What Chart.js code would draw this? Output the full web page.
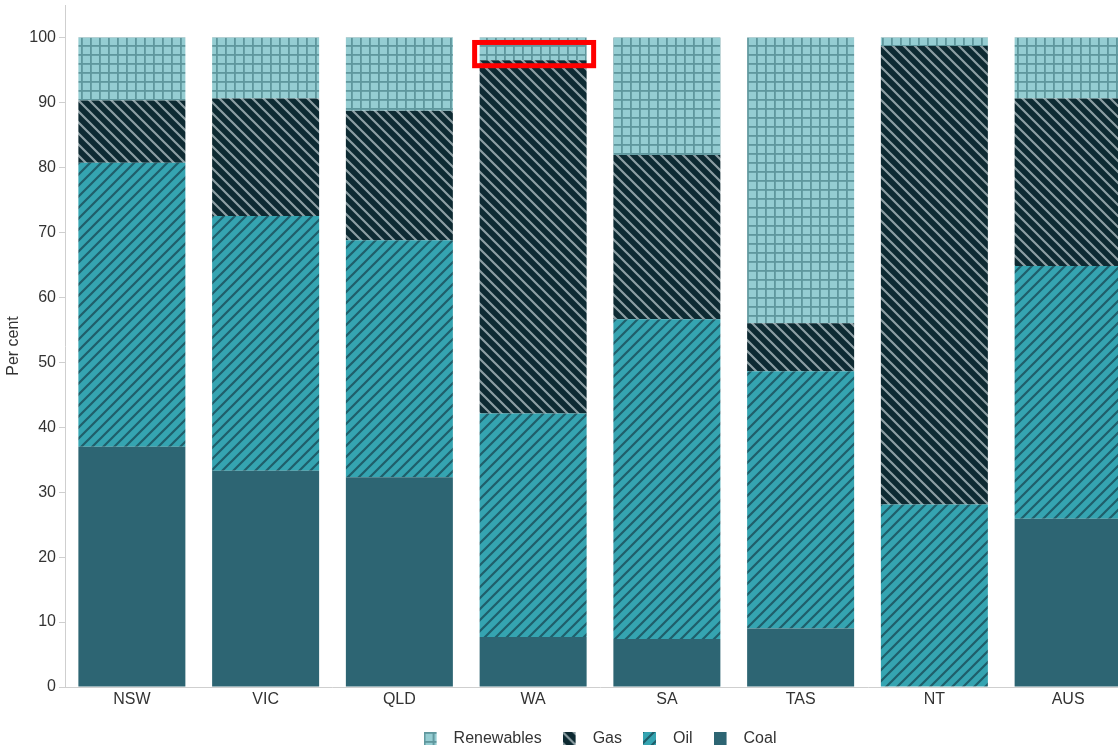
<!DOCTYPE html>
<html>
<head>
<meta charset="utf-8">
<script src="https://cdn.jsdelivr.net/npm/chart.js@4.4.1/dist/chart.umd.min.js"></script>
<style>
  html, body { margin: 0; padding: 0; background: #fff; overflow: hidden; }
  #wrap { position: relative; width: 1216px; height: 757px; }
</style>
</head>
<body>
<div id="wrap"><canvas id="c" width="1216" height="757"></canvas></div>
<script>
// ---- Data ----
const categories = ['NSW', 'VIC', 'QLD', 'WA', 'SA', 'TAS', 'NT', 'AUS'];
const coal       = [37.0, 33.3, 32.3, 7.7, 7.4, 9.0, 0.0, 25.9];
const oil        = [43.7, 39.2, 36.5, 34.4, 49.2, 39.6, 28.1, 38.9];
const gas        = [9.6, 18.1, 19.9, 54.4, 25.3, 7.4, 70.6, 25.8];
const renewables = [9.7, 9.4, 11.3, 3.5, 18.1, 44.0, 1.3, 9.4];
const seriesNames = ['Coal', 'Oil', 'Gas', 'Renewables'];
const yTicks = [0, 10, 20, 30, 40, 50, 60, 70, 80, 90, 100];
const highlightCategory = 'WA';

// ---- Patterns ----
function tile(size, draw) {
  const c = document.createElement('canvas');
  c.width = size; c.height = size;
  draw(c.getContext('2d'), size);
  return c;
}
function diag(bg, fg, lw, forward) {
  return tile(11, (g, s) => {
    g.fillStyle = bg; g.fillRect(0, 0, s, s);
    g.strokeStyle = fg; g.lineWidth = lw; g.lineCap = 'square';
    g.beginPath();
    for (let k = -1; k <= 1; k++) {
      if (forward) { g.moveTo(k * s, s); g.lineTo(k * s + s, 0); }
      else { g.moveTo(k * s, 0); g.lineTo(k * s + s, s); }
    }
    g.stroke();
  });
}
const ctx = document.getElementById('c').getContext('2d');
const tCoal = tile(9, (g, s) => { g.fillStyle = '#2d6573'; g.fillRect(0, 0, s, s); });
const tOil = diag('#35a4b1', '#1f5e6a', 2.2, true);
const tGas = diag('#0d2a32', '#8d9fa4', 2.2, false);
const tRen = tile(9, (g, s) => {
  g.fillStyle = '#95cdd2'; g.fillRect(0, 0, s, s);
  g.fillStyle = '#5f979d';
  g.fillRect(0, 0, 1.8, s); g.fillRect(0, 0, s, 1.8);
});
const pats = [tCoal, tOil, tGas, tRen].map(t => ctx.createPattern(t, 'repeat'));

function legendIcon(t) {
  const c = document.createElement('canvas');
  c.width = 22; c.height = 14;
  const g = c.getContext('2d');
  g.fillStyle = g.createPattern(t, 'repeat');
  g.fillRect(0, 0, 13, 13);
  return c;
}
const icons = [tCoal, tOil, tGas, tRen].map(legendIcon);

const values = [coal, oil, gas, renewables];
const datasets = seriesNames.map((n, i) => ({
  label: n,
  data: values[i],
  backgroundColor: pats[i],
  borderWidth: 0,
  pointStyle: icons[i],
  categoryPercentage: 0.8,
  barPercentage: 1.0
}));

const highlightPlugin = {
  id: 'highlight',
  afterDatasetsDraw(chart) {
    const idx = categories.indexOf(highlightCategory);
    const meta = chart.getDatasetMeta(2);
    const bar = meta.data[idx];
    if (!bar) return;
    const ys = chart.scales.y;
    const top = ys.getPixelForValue(100);
    const bottom = ys.getPixelForValue(coal[idx] + oil[idx] + gas[idx]);
    const half = bar.width / 2;
    const c = chart.ctx;
    c.save();
    c.strokeStyle = '#ff0000';
    c.lineWidth = 5;
    c.strokeRect(bar.x - half - 5, top + 5, bar.width + 12, bottom - top + 0.5);
    c.restore();
  }
};

new Chart(ctx, {
  type: 'bar',
  data: { labels: categories, datasets },
  plugins: [highlightPlugin],
  options: {
    responsive: false,
    animation: false,
    layout: { padding: { top: 5, left: 0, right: 81, bottom: 0 } },
    plugins: {
      tooltip: { enabled: false },
      legend: {
        position: 'bottom',
        reverse: true,
        fullSize: false,
        labels: {
          usePointStyle: true,
          pointStyleWidth: 22,
          boxHeight: 14,
          padding: 21,
          color: '#333',
          font: { family: 'Liberation Sans, Arial, sans-serif', size: 16 }
        }
      }
    },
    scales: {
      x: {
        stacked: true,
        grid: { display: false, drawTicks: false, tickLength: 0 },
        border: { display: true, color: '#cfcfcf', width: 1 },
        ticks: { color: '#333', padding: 3, font: { family: 'Liberation Sans, Arial, sans-serif', size: 16 } },
        afterFit(s) { s.height = 23; s.paddingLeft = 0; s.paddingRight = 0; }
      },
      y: {
        stacked: true,
        min: 0,
        max: 105,
        afterBuildTicks(s) { s.ticks = yTicks.map(v => ({ value: v })); },
        grid: { drawOnChartArea: false, drawTicks: true, tickLength: 6, color: '#cfcfcf' },
        border: { display: true, color: '#cfcfcf', width: 1 },
        ticks: { color: '#333', padding: 3, font: { family: 'Liberation Sans, Arial, sans-serif', size: 16 } },
        title: {
          display: true, text: 'Per cent', color: '#333',
          padding: { top: 4, bottom: 0 },
          font: { family: 'Liberation Sans, Arial, sans-serif', size: 16 }
        },
        afterFit(s) { s.width = 65; s.paddingTop = 0; s.paddingBottom = 0; }
      }
    }
  }
});
</script>
</body>
</html>
